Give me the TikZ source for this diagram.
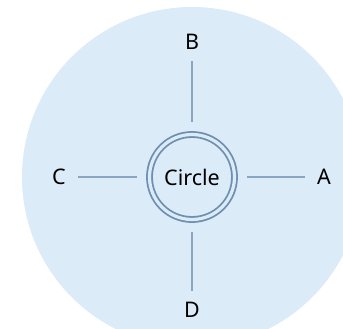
\documentclass[tikz,border=0pt]{standalone}
\usepackage{fontspec}
\setmainfont{Noto Sans}
\usepackage{xcolor}
\usepackage{tikz}
\usetikzlibrary{positioning}

\definecolor{discfill}{HTML}{DCEBF8}
\definecolor{ringcol}{HTML}{6F8FB0}
\definecolor{spokecol}{HTML}{8AA5C1}

\begin{document}
\begin{tikzpicture}[
  x=1pt, y=1pt,
  font=\fontsize{21.5}{25}\selectfont,
  hub/.style={draw=ringcol, circle, double=discfill, double distance=3.2pt,
              line width=1.8pt, minimum size=85pt, inner sep=0pt,
              outer sep=12.5pt},
  tag/.style={circle, minimum size=38pt, inner sep=0pt, outer sep=0pt},
  spoke/.style={draw=spokecol, line width=1.2pt}
]
\useasboundingbox (-192,-152) rectangle (151,177);
\fill[discfill] (0,0) circle (170);

\node[hub] (hub) at (0,0) {Circle};
\node[tag] (a) at (132,0) {A};
\node[tag] (b) at (0,135) {B};
\node[tag] (c) at (-133,0) {C};
\node[tag] (d) at (0,-133) {D};

\draw[spoke] (hub) -- (a);
\draw[spoke] (hub) -- (b);
\draw[spoke] (hub) -- (c);
\draw[spoke] (hub) -- (d);
\end{tikzpicture}
\end{document}
